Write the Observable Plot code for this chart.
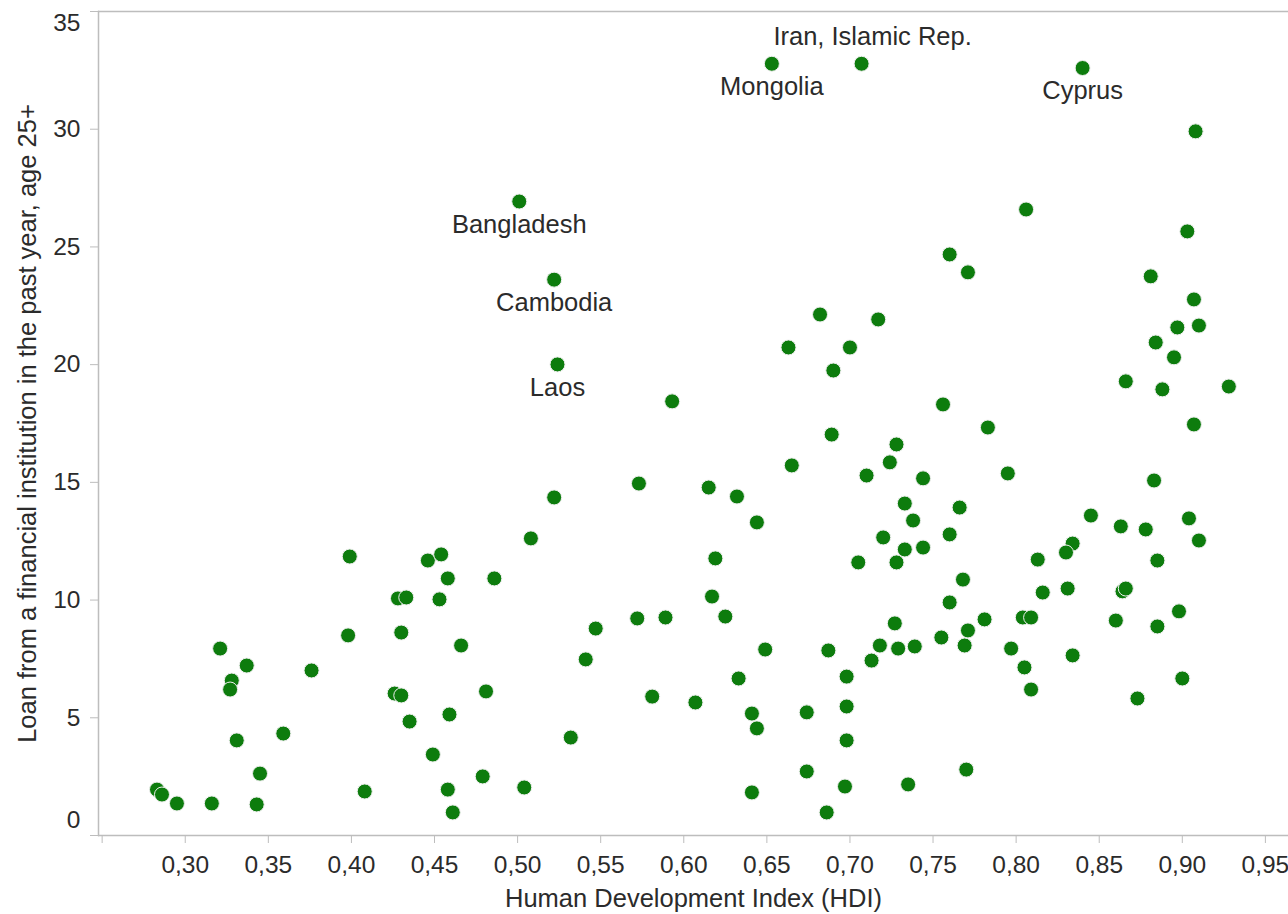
<!DOCTYPE html>
<html>
<head>
<meta charset="utf-8">
<script src="https://cdn.jsdelivr.net/npm/d3@7"></script>
<script src="https://cdn.jsdelivr.net/npm/@observablehq/plot@0.6"></script>
<style>
  html, body { margin: 0; padding: 0; background: #fff; }
  #chart svg { display: block; }
</style>
</head>
<body>
<div id="chart"></div>
<script>
// Labelled countries
const countries   = ["Bangladesh", "Cambodia", "Laos", "Mongolia", "Iran, Islamic Rep.", "Cyprus"];
const countryHdi  = [0.501, 0.522, 0.524, 0.653, 0.707, 0.840];
const countryLoan = [26.93, 23.61, 20.01, 32.78, 32.78, 32.60];

// Other (unlabelled) countries
const otherHdi = [
  0.283, 0.286, 0.295, 0.316, 0.321, 0.328, 0.327, 0.337, 0.331, 0.345,
  0.343, 0.359, 0.376, 0.398, 0.408, 0.399, 0.426, 0.430, 0.430, 0.428,
  0.433, 0.435, 0.446, 0.454, 0.453, 0.458, 0.466, 0.449, 0.459, 0.458,
  0.461, 0.481, 0.479, 0.486, 0.504, 0.508, 0.522, 0.532, 0.541, 0.547,
  0.573, 0.572, 0.581, 0.589, 0.593, 0.607, 0.615, 0.617, 0.619, 0.625,
  0.632, 0.633, 0.644, 0.641, 0.644, 0.649, 0.641, 0.663, 0.665, 0.674,
  0.674, 0.682, 0.687, 0.686, 0.689, 0.690, 0.698, 0.698, 0.698, 0.697,
  0.700, 0.705, 0.710, 0.713, 0.717, 0.718, 0.720, 0.724, 0.728, 0.727,
  0.729, 0.728, 0.733, 0.733, 0.735, 0.738, 0.739, 0.744, 0.744, 0.756,
  0.755, 0.760, 0.760, 0.760, 0.766, 0.768, 0.771, 0.769, 0.771, 0.770,
  0.783, 0.781, 0.795, 0.797, 0.806, 0.804, 0.809, 0.805, 0.809, 0.813,
  0.816, 0.834, 0.830, 0.831, 0.834, 0.845, 0.860, 0.863, 0.866, 0.864,
  0.866, 0.873, 0.878, 0.881, 0.884, 0.883, 0.885, 0.885, 0.888, 0.895,
  0.897, 0.898, 0.900, 0.903, 0.904, 0.907, 0.908, 0.907, 0.910, 0.910,
  0.928
];
const otherLoan = [
  1.95, 1.74, 1.36, 1.36, 7.94, 6.58, 6.20, 7.22, 4.04, 2.63,
  1.32, 4.33, 7.01, 8.50, 1.87, 11.85, 6.03, 5.95, 8.62, 10.07,
  10.11, 4.84, 11.68, 11.94, 10.03, 10.92, 8.07, 3.44, 5.14, 1.95,
  0.98, 6.12, 2.51, 10.92, 2.04, 12.62, 14.36, 4.16, 7.48, 8.79,
  14.95, 9.22, 5.90, 9.26, 18.44, 5.65, 14.78, 10.15, 11.77, 9.30,
  14.40, 6.67, 13.30, 5.18, 4.55, 7.90, 1.83, 20.73, 15.72, 5.23,
  2.72, 22.13, 7.86, 0.98, 17.03, 19.75, 6.75, 5.48, 4.04, 2.08,
  20.73, 11.60, 15.29, 7.43, 21.92, 8.07, 12.66, 15.85, 16.61, 9.01,
  7.94, 11.60, 14.10, 12.15, 2.17, 13.38, 8.03, 12.23, 15.17, 18.31,
  8.41, 24.68, 12.79, 9.90, 13.93, 10.87, 23.92, 8.07, 8.71, 2.80,
  17.33, 9.18, 15.38, 7.94, 26.59, 9.26, 9.26, 7.14, 6.20, 11.72,
  10.32, 12.40, 12.02, 10.49, 7.65, 13.59, 9.13, 13.13, 19.29, 10.37,
  10.49, 5.82, 13.00, 23.75, 20.94, 15.08, 11.68, 8.88, 18.95, 20.31,
  21.58, 9.52, 6.67, 25.66, 13.47, 22.77, 29.91, 17.46, 21.66, 12.53,
  19.07
];

// Axis ticks and titles
const xTicks = [0.25, 0.30, 0.35, 0.40, 0.45, 0.50, 0.55, 0.60, 0.65, 0.70, 0.75, 0.80, 0.85, 0.90, 0.95];
const yTicks = [0, 5, 10, 15, 20, 25, 30, 35];
const xTitle = "Human Development Index (HDI)";
const yTitle = "Loan from a financial institution in the past year, age 25+";

const points = [
  ...otherHdi.map((h, i) => ({hdi: h, loan: otherLoan[i]})),
  ...countries.map((c, i) => ({hdi: countryHdi[i], loan: countryLoan[i], name: c}))
];
const labelled = countries.map((c, i) => ({name: c, hdi: countryHdi[i], loan: countryLoan[i]}));

const axisColor = "#bdbdbd";
const textColor = "#2b2b2b";
const fmt = d => d.toFixed(2).replace(".", ",");

const chart = Plot.plot({
  width: 1288,
  height: 914,
  marginLeft: 98,
  marginRight: 0,
  marginTop: 11,
  marginBottom: 79,
  style: {fontFamily: "'Liberation Sans', Arial, sans-serif", background: "#fff", color: textColor},
  x: {domain: [0.2478, 0.9639]},
  y: {domain: [0, 35]},
  marks: [
    Plot.ruleY([0, 35], {stroke: axisColor, strokeWidth: 1.5}),
    Plot.frame({anchor: "left", stroke: axisColor, strokeWidth: 1.5}),
    // y axis: ticks + middle labels
    Plot.axisY({
      ticks: yTicks, tickSize: 8, tickPadding: 10, fontSize: 24.5,
      stroke: axisColor, fill: textColor, label: null,
      tickFormat: d => (d === 0 || d === 35) ? "" : String(d)
    }),
    // end labels nudged inward
    Plot.axisY({ticks: [35], tickSize: 0, tickPadding: 18, dy: 12, fontSize: 24.5, fill: textColor, label: null}),
    Plot.axisY({ticks: [0], tickSize: 0, tickPadding: 18, dy: -15, fontSize: 24.5, fill: textColor, label: null}),
    Plot.axisX({
      ticks: xTicks, tickSize: 8, tickPadding: 12, fontSize: 24.5,
      stroke: axisColor, fill: textColor, label: null,
      tickFormat: d => d < 0.27 ? "" : fmt(d)
    }),
    Plot.text([xTitle], {frameAnchor: "bottom", dy: 63, fontSize: 25.5, fill: textColor, lineAnchor: "middle", textAnchor: "middle"}),
    Plot.text([yTitle], {frameAnchor: "left", dx: -71, rotate: -90, fontSize: 25.5, fill: textColor, lineAnchor: "middle", textAnchor: "middle"}),
    Plot.dot(points, {x: "hdi", y: "loan", r: 7.5, fill: "#0d7c0d", stroke: "#f0f0f0", strokeWidth: 1}),
    Plot.text(labelled.filter(d => d.name !== "Iran, Islamic Rep."), {
      x: "hdi", y: "loan", text: "name", dy: 23, fontSize: 25.5, fill: textColor, lineAnchor: "middle"
    }),
    Plot.text(labelled.filter(d => d.name === "Iran, Islamic Rep."), {
      x: "hdi", y: "loan", text: "name", dy: -27, dx: 11, fontSize: 25.5, fill: textColor, lineAnchor: "middle"
    })
  ]
});
document.getElementById("chart").appendChild(chart);
</script>
</body>
</html>
